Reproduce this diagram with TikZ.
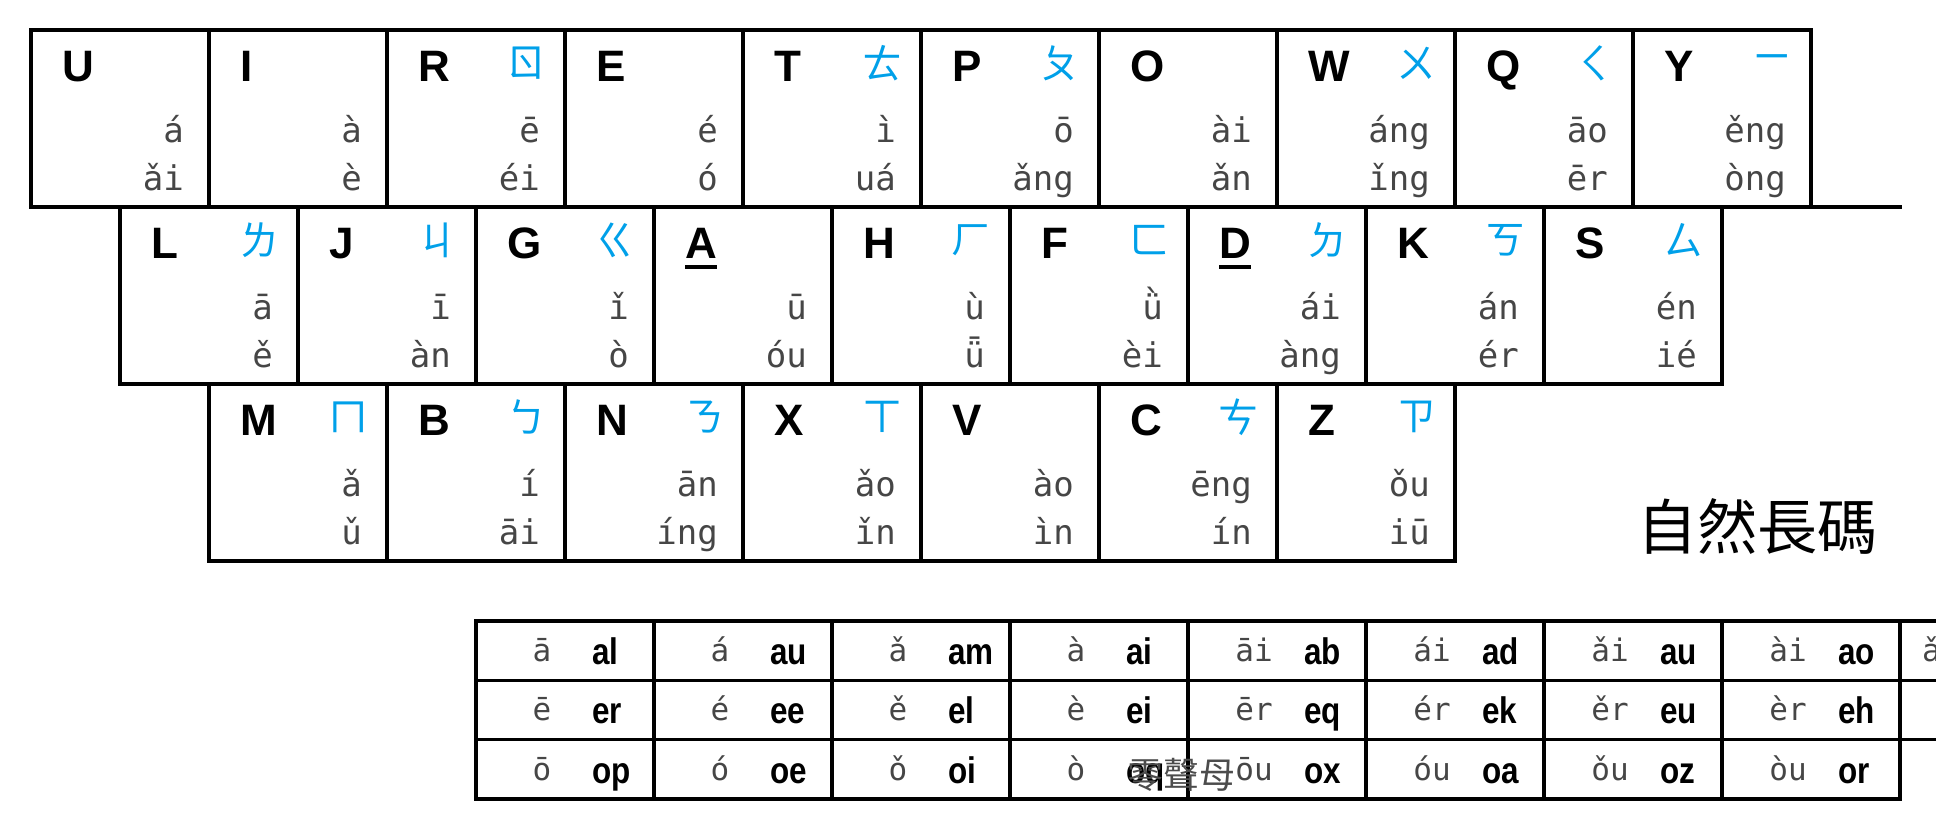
\documentclass[tikz,border=0pt]{standalone}
\usepackage{fontspec}
\setmainfont{Liberation Sans}
\newfontfamily\monofont{DejaVu Sans Mono}
\newfontfamily\narrowfont{Liberation Sans}[FakeStretch=0.85]
\newfontfamily\cjkfont{Noto Sans CJK TC}
\usetikzlibrary{positioning,calc}
\definecolor{bopoblue}{RGB}{0,160,233}
\definecolor{pygray}{RGB}{70,70,70}

\begin{document}
\begin{tikzpicture}[x=1pt, y=-1pt,
    keybox/.style={draw, line width=3.3pt, outer sep=0pt, minimum width=178pt, minimum height=177pt, inner sep=0pt},
    cellbox/.style={draw, line width=3.3pt, outer sep=0pt, minimum width=178pt, minimum height=59.3pt, inner sep=0pt},
    keyletter/.style={anchor=base west, inner sep=0pt, font=\bfseries\fontsize{44}{44}\selectfont},
    bopo/.style={anchor=center, inner sep=0pt, text=bopoblue, font=\cjkfont\fontsize{40}{40}\selectfont},
    pinyin/.style={anchor=base east, inner sep=0pt, text=pygray, font=\monofont\fontsize{34}{34}\selectfont},
    tonetext/.style={anchor=base, inner sep=0pt, text=pygray, font=\monofont\fontsize{31}{31}\selectfont},
    codetext/.style={anchor=base west, inner sep=0pt, font=\narrowfont\bfseries\fontsize{37}{37}\selectfont},
    titletext/.style={inner sep=0pt, font=\cjkfont\fontsize{60}{60}\selectfont}]

    \useasboundingbox (0,0) rectangle (1936,828);

    % keys: column/row/letter/bopomofo/upper/lower
    \foreach \c/\r/\k/\b/\p/\q in {0/0/U//á/ǎi, 1/0/I//à/è, 2/0/R/ㄖ/ē/éi, 3/0/E//é/ó, 4/0/T/ㄊ/ì/uá,
        5/0/P/ㄆ/ō/ǎng, 6/0/O//ài/ǎn, 7/0/W/ㄨ/áng/ǐng, 8/0/Q/ㄑ/āo/ēr, 9/0/Y/ㄧ/ěng/òng,
        0/1/L/ㄌ/ā/ě, 1/1/J/ㄐ/ī/àn, 2/1/G/ㄍ/ǐ/ò, 3/1/A//ū/óu, 4/1/H/ㄏ/ù/ǖ,
        5/1/F/ㄈ/ǜ/èi, 6/1/D/ㄉ/ái/àng, 7/1/K/ㄎ/án/ér, 8/1/S/ㄙ/én/ié,
        0/2/M/ㄇ/ǎ/ǔ, 1/2/B/ㄅ/í/āi, 2/2/N/ㄋ/ān/íng, 3/2/X/ㄒ/ǎo/ǐn, 4/2/V//ào/ìn,
        5/2/C/ㄘ/ēng/ín, 6/2/Z/ㄗ/ǒu/iū}
    {
        \node[keybox] (key-\k) at ({120+89*\r+178*\c}, {118.5+177*\r}) {};
        \node[keyletter] (letter-\k) at ([shift={(31,51)}]key-\k.north west) {\k};
        \node[bopo] (bopo-\k) at ([shift={(-39,33)}]key-\k.north east) {\b};
        \node[pinyin] (up-\k) at ([shift={(-25,112)}]key-\k.north east) {\p};
        \node[pinyin] (down-\k) at ([shift={(-25,160)}]key-\k.north east) {\q};
    }
    \foreach \k in {A, D}
        \fill ($(letter-\k.base west)+(0,7)$) rectangle ($(letter-\k.base east)+(0,11)$);

    \coordinate (tail) at (1902,207);
    \draw[line width=3.3pt] (key-Y.south east) -- (tail);

    \node[titletext] (title) at (1757,526) {自然長碼};

    % finals table
    \foreach \c/\r/\t/\m in {0/0/ā/al, 1/0/á/au, 2/0/ǎ/am, 3/0/à/ai, 4/0/āi/ab, 5/0/ái/ad, 6/0/ǎi/au, 7/0/ài/ao,
        0/1/ē/er, 1/1/é/ee, 2/1/ě/el, 3/1/è/ei, 4/1/ēr/eq, 5/1/ér/ek, 6/1/ěr/eu, 7/1/èr/eh,
        0/2/ō/op, 1/2/ó/oe, 2/2/ǒ/oi, 3/2/ò/oq, 4/2/ōu/ox, 5/2/óu/oa, 6/2/ǒu/oz, 7/2/òu/or}
    {
        \node[cellbox] (cell-\c-\r) at ({565+178*\c}, {650.6+59.3*\r}) {};
        \node[tonetext] (tone-\c-\r) at ([shift={(66,11)}]cell-\c-\r.west) {\t};
        \node[codetext] (code-\c-\r) at ([shift={(116,14)}]cell-\c-\r.west) {\m};
    }
    \draw[line width=3.3pt] (cell-7-0.north east) -- ++(40,0)
        (cell-7-1.north east) -- ++(40,0) (cell-7-2.north east) -- ++(40,0);
    \node[tonetext, anchor=base west] (tone-8-0) at ([shift={(22,11)}]cell-7-0.east) {ǎ};

    \node[inner sep=0pt, text=black!70, font=\cjkfont\fontsize{36}{36}\selectfont] (zero) at (1181,775) {零聲母};
\end{tikzpicture}
\end{document}
